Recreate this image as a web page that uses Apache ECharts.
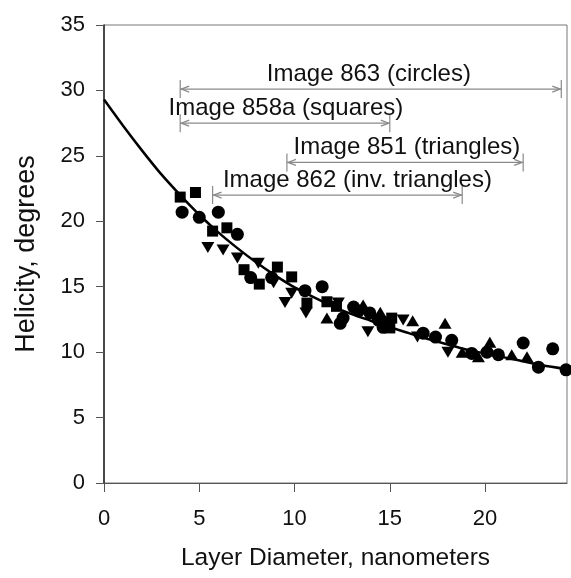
<!DOCTYPE html>
<html>
<head>
<meta charset="utf-8">
<script src="https://cdn.jsdelivr.net/npm/echarts@6/dist/echarts.min.js"></script>
<style>
  html, body { margin: 0; padding: 0; background: #fff; }
  #chart { width: 571px; height: 578px; }
</style>
</head>
<body>
<div id="chart"></div>
<script>
  // measured points, [diameter nm, helicity deg]
  var circles = [
    [4.1, 20.7], [5.0, 20.3], [6.0, 20.7], [7.0, 19.0], [7.7, 15.7], [8.8, 15.7],
    [10.55, 14.7], [11.45, 15.0], [12.4, 12.2], [12.55, 12.6], [13.1, 13.45], [13.35, 13.15],
    [13.95, 13.0], [14.4, 12.45], [14.65, 11.9], [16.75, 11.45], [17.4, 11.15], [18.25, 10.9],
    [19.3, 9.9], [20.1, 10.0], [20.7, 9.8], [22.0, 10.7], [22.8, 8.85], [23.55, 10.25], [24.25, 8.65]
  ];
  var squares = [
    [4.0, 21.85], [4.8, 22.2], [5.7, 19.25], [6.45, 19.5], [7.35, 16.3], [8.15, 15.2],
    [9.1, 16.5], [9.85, 15.75], [10.65, 13.75], [11.7, 13.85], [12.2, 13.5], [14.8, 12.3],
    [15.1, 12.6], [15.0, 11.85]
  ];
  var triangles = [
    [11.7, 12.6], [13.6, 13.6], [14.5, 13.05], [16.2, 12.4], [17.9, 12.2], [18.8, 10.0],
    [19.65, 9.65], [20.25, 10.75], [21.4, 9.8], [22.2, 9.65]
  ];
  var invTriangles = [
    [5.45, 18.0], [6.25, 17.8], [7.0, 17.2], [8.1, 16.8], [8.9, 15.3], [9.5, 13.8],
    [9.85, 14.5], [10.6, 13.0], [12.3, 13.75], [13.85, 11.55], [15.7, 12.45], [16.45, 11.15],
    [18.05, 10.0]
  ];
  // fitted curve
  var curveX = [0, 1, 2, 3, 4, 5, 6, 7, 8, 9, 10, 11, 12, 13, 14, 15, 16, 17, 18, 19, 20, 21, 22, 23, 24.3];
  var curveY = [29.3, 27.3, 25.4, 23.6, 22.0, 20.5, 19.15, 17.95, 16.85, 15.85, 14.95, 14.2, 13.5, 12.9, 12.4,
                11.9, 11.45, 11.0, 10.6, 10.2, 9.9, 9.6, 9.3, 9.0, 8.7];
  // range annotations: label, from, to, level, label centre
  var rangeLabels = ['Image 863 (circles)', 'Image 858a (squares)', 'Image 851 (triangles)', 'Image 862 (inv. triangles)'];
  var rangeFrom = [4.0, 4.0, 9.6, 5.7];
  var rangeTo = [24.0, 15.0, 22.0, 18.8];
  var rangeLevel = [30.1, 27.5, 24.5, 22.0];
  var rangeTextX = [13.9, 9.55, 15.9, 13.3];

  var fontFam = '"Liberation Sans", Arial, sans-serif';
  var chart = echarts.init(document.getElementById('chart'));

  var rangeData = rangeLabels.map(function (t, i) {
    return [rangeFrom[i], rangeTo[i], rangeLevel[i], rangeTextX[i], i];
  });

  function renderRange(params, api) {
    var a = api.coord([api.value(0), api.value(2)]);
    var b = api.coord([api.value(1), api.value(2)]);
    var c = api.coord([api.value(3), api.value(2)]);
    var label = rangeLabels[api.value(4)];
    var st = { stroke: '#8a8a8a', lineWidth: 1.2, fill: null };
    return {
      type: 'group',
      children: [
        { type: 'line', shape: { x1: a[0], y1: a[1], x2: b[0], y2: b[1] }, style: st },
        { type: 'line', shape: { x1: a[0], y1: a[1] - 9, x2: a[0], y2: a[1] + 9 }, style: st },
        { type: 'line', shape: { x1: b[0], y1: b[1] - 9, x2: b[0], y2: b[1] + 9 }, style: st },
        { type: 'polyline', shape: { points: [[a[0] + 9, a[1] - 3], [a[0] + 1, a[1]], [a[0] + 9, a[1] + 3]] }, style: st },
        { type: 'polyline', shape: { points: [[b[0] - 9, b[1] - 3], [b[0] - 1, b[1]], [b[0] - 9, b[1] + 3]] }, style: st },
        {
          type: 'text', x: c[0], y: c[1] - 15,
          style: { text: label, fill: '#111', font: '24px ' + fontFam, align: 'center', verticalAlign: 'middle' }
        }
      ]
    };
  }

  var option = {
    animation: false,
    backgroundColor: '#fff',
    grid: { left: 104, right: 4, top: 25, bottom: 95, show: true, borderColor: '#777', borderWidth: 1 },
    xAxis: {
      type: 'value', min: 0, max: 24.3, interval: 5,
      name: 'Layer Diameter, nanometers', nameLocation: 'middle', nameGap: 63,
      nameTextStyle: { fontSize: 24.5, color: '#111', fontFamily: fontFam },
      axisLine: { show: true, onZero: false, lineStyle: { color: '#555', width: 1 } },
      axisTick: { show: true, inside: false, length: 9, lineStyle: { color: '#555' } },
      axisLabel: { fontSize: 22, color: '#111', fontFamily: fontFam, margin: 25, showMaxLabel: false },
      splitLine: { show: false }
    },
    yAxis: {
      type: 'value', min: 0, max: 35, interval: 5,
      name: 'Helicity, degrees', nameLocation: 'middle', nameGap: 64, nameRotate: 90,
      nameTextStyle: { fontSize: 27, color: '#111', fontFamily: fontFam },
      axisLine: { show: true, onZero: false, lineStyle: { color: '#222', width: 1.5 } },
      axisTick: { show: true, inside: false, length: 8, lineStyle: { color: '#555' } },
      axisLabel: { fontSize: 22, color: '#111', fontFamily: fontFam, margin: 19 },
      splitLine: { show: false }
    },
    series: [
      {
        type: 'line', data: curveX.map(function (x, i) { return [x, curveY[i]]; }),
        smooth: 0.25, showSymbol: false, lineStyle: { color: '#000', width: 2.5 }, z: 3
      },
      { type: 'scatter', data: circles, symbol: 'circle', symbolSize: 13, itemStyle: { color: '#000', opacity: 1 }, z: 4 },
      { type: 'scatter', data: squares, symbol: 'rect', symbolSize: 11, itemStyle: { color: '#000', opacity: 1 }, z: 4 },
      { type: 'scatter', data: triangles, symbol: 'triangle', symbolSize: [13, 11], itemStyle: { color: '#000', opacity: 1 }, z: 4 },
      { type: 'scatter', data: invTriangles, symbol: 'triangle', symbolRotate: 180, symbolSize: [13, 11], itemStyle: { color: '#000', opacity: 1 }, z: 4 },
      {
        type: 'custom', data: rangeData, renderItem: renderRange, clip: false, z: 5,
        encode: { x: [0, 1], y: 2 }
      }
    ]
  };
  chart.setOption(option);
</script>
</body>
</html>
